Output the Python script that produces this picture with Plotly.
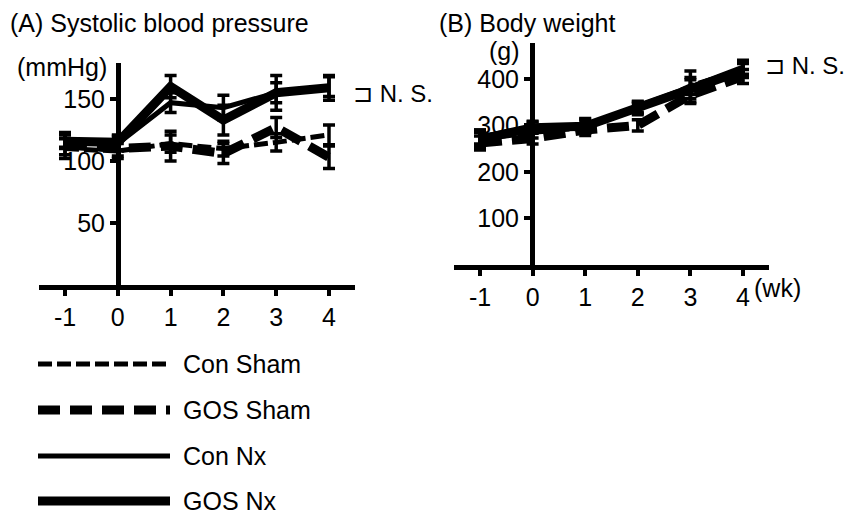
import plotly.graph_objects as go

# ---------------- data ----------------
weeks = [-1, 0, 1, 2, 3, 4]
week_ticks = ["-1", "0", "1", "2", "3", "4"]
groups = ["Con Sham", "GOS Sham", "Con Nx", "GOS Nx"]

# (A) systolic blood pressure, mmHg
sbp_con_sham = [110, 108, 114, 110, 115, 121]
sbp_con_sham_err = [8, 6, 7, 6, 7, 8]
sbp_gos_sham = [113, 110, 112, 106, 127, 103]
sbp_gos_sham_err = [8, 6, 12, 8, 8, 9]
sbp_con_nx = [117, 114, 147, 143, 155, 160]
sbp_con_nx_err = [6, 6, 8, 10, 8, 8]
sbp_gos_nx = [116, 115, 160, 133, 155, 159]
sbp_gos_nx_err = [6, 6, 9, 12, 14, 10]
sbp_ticks = [50, 100, 150]

# (B) body weight, g
bw_con_sham = [270, 285, 295, 335, 385, 420]
bw_con_sham_err = [15, 12, 12, 12, 18, 15]
bw_gos_sham = [262, 272, 290, 300, 365, 405]
bw_gos_sham_err = [15, 12, 12, 12, 15, 15]
bw_con_nx = [275, 297, 300, 340, 382, 425]
bw_con_nx_err = [15, 12, 15, 12, 35, 15]
bw_gos_nx = [270, 295, 298, 338, 378, 418]
bw_gos_nx_err = [20, 12, 15, 12, 20, 15]
bw_ticks = [100, 200, 300, 400]

# ---------------- styles ----------------
styles = {
    "Con Sham": dict(width=5, dash="14px,5px"),
    "GOS Sham": dict(width=9, dash="22px,10px"),
    "Con Nx": dict(width=5, dash="solid"),
    "GOS Nx": dict(width=9, dash="solid"),
}
FONT = "Liberation Sans, Arial, Helvetica, sans-serif"
W, H = 854, 517


def px_x(p):
    return p / W


def px_y(p):
    return 1 - p / H


fig = go.Figure()

sbp = [(sbp_con_sham, sbp_con_sham_err), (sbp_gos_sham, sbp_gos_sham_err),
       (sbp_con_nx, sbp_con_nx_err), (sbp_gos_nx, sbp_gos_nx_err)]
bw = [(bw_con_sham, bw_con_sham_err), (bw_gos_sham, bw_gos_sham_err),
      (bw_con_nx, bw_con_nx_err), (bw_gos_nx, bw_gos_nx_err)]

for (xa, ya, data) in [("x", "y", sbp), ("x2", "y2", bw)]:
    for g, (vals, errs) in zip(groups, data):
        st = styles[g]
        fig.add_trace(go.Scatter(
            x=weeks, y=vals, mode="lines", name=g, showlegend=False,
            xaxis=xa, yaxis=ya,
            line=dict(color="black", width=st["width"], dash=st["dash"]),
            error_y=dict(type="data", array=errs, visible=True,
                         color="black", thickness=3.5, width=6),
        ))

axis_common = dict(showline=True, linecolor="black", linewidth=5,
                   ticks="outside", ticklen=6, tickwidth=4, tickcolor="black",
                   showgrid=False, zeroline=False,
                   tickfont=dict(family=FONT, size=25, color="black"))

fig.update_layout(
    width=W, height=H,
    margin=dict(l=0, r=0, t=0, b=0),
    paper_bgcolor="white", plot_bgcolor="white",
    showlegend=False,
    font=dict(family=FONT, color="black"),
    xaxis=dict(domain=[px_x(38.6), px_x(355.4)], range=[-1.5, 4.5],
               tickvals=weeks, ticktext=week_ticks, anchor="y", **axis_common),
    yaxis=dict(domain=[px_y(285), px_y(63)], range=[0, 179],
               tickvals=sbp_ticks, ticktext=[str(v) for v in sbp_ticks],
               anchor="free", position=px_x(118), **axis_common),
    xaxis2=dict(domain=[px_x(453.7), px_x(769.3)], range=[-1.5, 4.5],
                tickvals=weeks, ticktext=week_ticks, anchor="y2", **axis_common),
    yaxis2=dict(domain=[px_y(265), px_y(43)], range=[0, 477],
                tickvals=bw_ticks, ticktext=[str(v) for v in bw_ticks],
                anchor="free", position=px_x(532), **axis_common),
)

TS = 25
ann = [
    ("(A) Systolic blood pressure", 8, 23, "left", TS),
    ("(B) Body weight", 437, 23, "left", TS),
    ("(mmHg)", 62, 67, "center", TS),
    ("(g)", 504, 51, "center", TS),
    ("\u2290 N. S.", 351, 93, "left", 24),
    ("\u2290 N. S.", 763, 66, "left", 24),
    ("(wk)", 752, 288, "left", TS),
]
for text, x, y, xa, fs in ann:
    fig.add_annotation(text=text, x=px_x(x), y=px_y(y), xref="paper", yref="paper",
                       xanchor=xa, yanchor="middle", showarrow=False,
                       font=dict(family=FONT, size=fs, color="black"))

# legend (drawn manually)
leg_y = [364, 410, 456, 501]
for g, yy in zip(groups, leg_y):
    st = styles[g]
    fig.add_shape(type="line", xref="paper", yref="paper",
                  x0=px_x(38), x1=px_x(170), y0=px_y(yy), y1=px_y(yy),
                  line=dict(color="black", width=st["width"], dash=st["dash"]))
    fig.add_annotation(text=g, x=px_x(181), y=px_y(yy), xref="paper", yref="paper",
                       xanchor="left", yanchor="middle", showarrow=False,
                       font=dict(family=FONT, size=TS, color="black"))

fig.write_html(
    "out.html",
    config={"displayModeBar": False},
    post_script="document.body.style.margin='0';document.body.style.overflow='hidden';",
)
